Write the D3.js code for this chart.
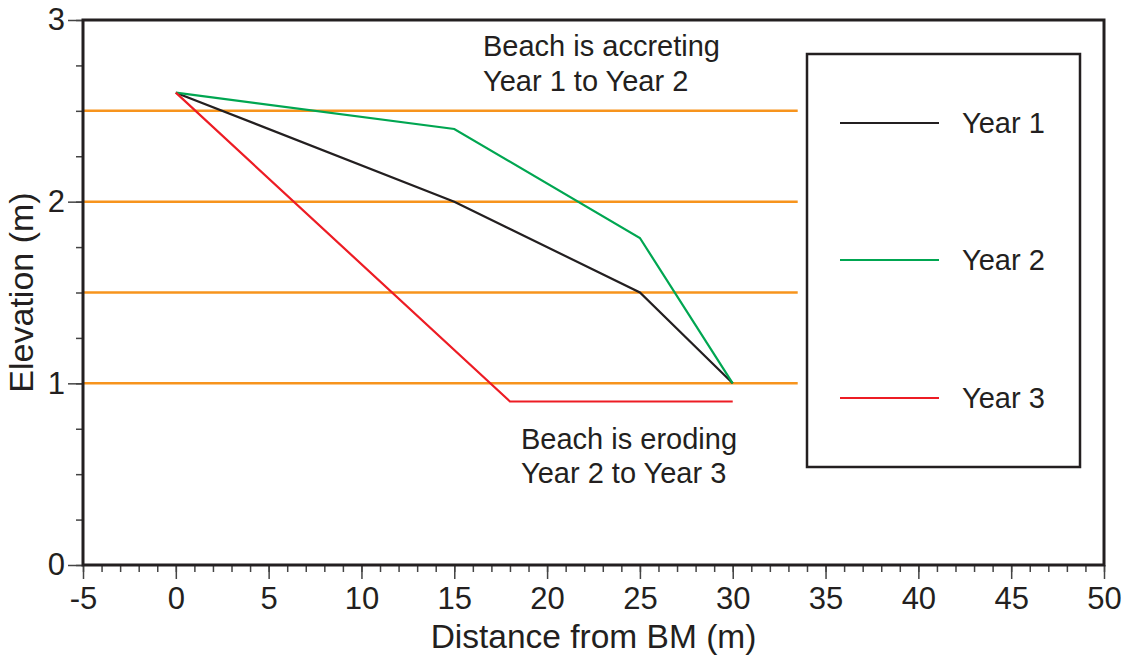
<!DOCTYPE html>
<html>
<head>
<meta charset="utf-8">
<script src="https://cdn.jsdelivr.net/npm/d3@7"></script>
<style>
  body { margin: 0; background: #fff; }
  svg { display: block; font-family: "Liberation Sans", Arial, sans-serif; }
  text { fill: #231f20; }
</style>
</head>
<body>
<svg width="1132" height="659"></svg>
<script>
window.onload = function () {
var svg = d3.select('svg');

// data
var year1X = [0, 15, 25, 30];
var year1Y = [2.6, 2.0, 1.5, 1.0];
var year2X = [0, 15, 25, 30];
var year2Y = [2.6, 2.4, 1.8, 1.0];
var year3X = [0, 18, 30];
var year3Y = [2.6, 0.9, 0.9];
var seriesNames = ['Year 1', 'Year 2', 'Year 3'];
var seriesColors = ['#231f20', '#00a651', '#ed1c24'];
var levels = [2.5, 2.0, 1.5, 1.0];
var levelEnd = 33.5;
var xTicks = [-5, 0, 5, 10, 15, 20, 25, 30, 35, 40, 45, 50];
var yTicks = [0, 1, 2, 3];

var left = 83, right = 1104, top = 20, bottom = 565;
var x = d3.scaleLinear().domain([-5, 50]).range([left, right]);
var y = d3.scaleLinear().domain([0, 3]).range([bottom, top]);

// orange elevation reference lines
svg.selectAll('line.level')
  .data(levels)
  .enter().append('line')
  .attr('class', 'level')
  .attr('x1', x(-5))
  .attr('x2', x(levelEnd))
  .attr('y1', function (d) { return y(d); })
  .attr('y2', function (d) { return y(d); })
  .attr('stroke', '#f7941d')
  .attr('stroke-width', 2.5);

// profile lines
var series = [
  d3.zip(year1X, year1Y),
  d3.zip(year2X, year2Y),
  d3.zip(year3X, year3Y)
];
var line = d3.line()
  .x(function (d) { return x(d[0]); })
  .y(function (d) { return y(d[1]); });
svg.selectAll('path.profile')
  .data(series)
  .enter().append('path')
  .attr('class', 'profile')
  .attr('d', line)
  .attr('fill', 'none')
  .attr('stroke', function (d, i) { return seriesColors[i]; })
  .attr('stroke-width', 2.2);

// axes: minor ticks first, then major with labels
var plain = function (d) { return String(d); };
var xMinor = d3.axisBottom(x).tickValues(d3.range(-5, 51, 1)).tickSize(7).tickFormat('');
var xMajor = d3.axisBottom(x).tickValues(xTicks).tickSize(14).tickPadding(8).tickFormat(plain);
var yMinor = d3.axisLeft(y).tickValues(d3.range(0, 3.01, 0.25)).tickSize(7).tickFormat('');
var yMajor = d3.axisLeft(y).tickValues(yTicks).tickSize(15).tickPadding(3).tickFormat(plain);

[xMinor, xMajor].forEach(function (ax) {
  svg.append('g').attr('class', 'axis').attr('transform', 'translate(0,' + bottom + ')').call(ax);
});
[yMinor, yMajor].forEach(function (ax) {
  svg.append('g').attr('class', 'axis').attr('transform', 'translate(' + left + ',0)').call(ax);
});
svg.selectAll('g.axis').attr('font-family', null).attr('font-size', null);
svg.selectAll('.domain').remove();
svg.selectAll('.tick line').attr('stroke', '#444').attr('stroke-width', 1.5);
svg.selectAll('.tick text')
  .style('font-size', '31px')
  .style('fill', '#231f20');

// plot frame
svg.append('rect')
  .attr('x', left)
  .attr('y', top)
  .attr('width', right - left)
  .attr('height', bottom - top)
  .attr('fill', 'none')
  .attr('stroke', '#231f20')
  .attr('stroke-width', 3);

// axis titles
svg.append('text')
  .attr('x', (left + right) / 2)
  .attr('y', 648)
  .attr('text-anchor', 'middle')
  .style('font-size', '33.5px')
  .text('Distance from BM (m)');
svg.append('text')
  .attr('transform', 'translate(33,' + (top + bottom) / 2 + ') rotate(-90)')
  .attr('text-anchor', 'middle')
  .style('font-size', '34px')
  .text('Elevation (m)');

// annotations
var notes = [
  { x: 483, y: 56, t: 'Beach is accreting' },
  { x: 483, y: 91, t: 'Year 1 to Year 2' },
  { x: 521, y: 449, t: 'Beach is eroding' },
  { x: 521, y: 483, t: 'Year 2 to Year 3' }
];
svg.selectAll('text.note')
  .data(notes)
  .enter().append('text')
  .attr('class', 'note')
  .attr('x', function (d) { return d.x; })
  .attr('y', function (d) { return d.y; })
  .style('font-size', '29px')
  .text(function (d) { return d.t; });

// legend
svg.append('rect')
  .attr('x', 807)
  .attr('y', 54)
  .attr('width', 273)
  .attr('height', 413)
  .attr('fill', '#fff')
  .attr('stroke', '#231f20')
  .attr('stroke-width', 2.5);
var legendY = [123, 260, 398];
var item = svg.selectAll('g.legend-item')
  .data(seriesNames)
  .enter().append('g')
  .attr('class', 'legend-item')
  .attr('transform', function (d, i) { return 'translate(0,' + legendY[i] + ')'; });
item.append('line')
  .attr('x1', 840)
  .attr('x2', 939)
  .attr('stroke', function (d, i) { return seriesColors[i]; })
  .attr('stroke-width', 2.2);
item.append('text')
  .attr('x', 962)
  .attr('y', 10)
  .style('font-size', '29px')
  .text(function (d) { return d; });
};
</script>
</body>
</html>
